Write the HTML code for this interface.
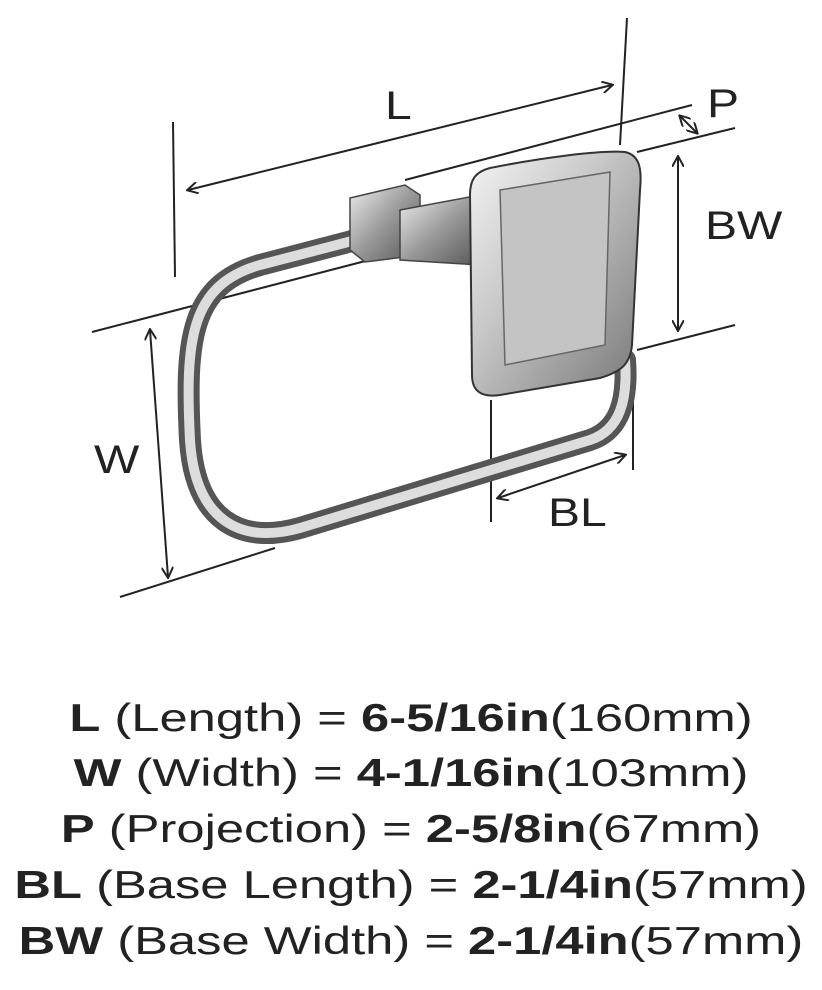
<!DOCTYPE html>
<html><head><meta charset="utf-8"><style>
html,body{margin:0;padding:0;background:#fff}
.t{position:absolute;left:0;width:822px;text-align:center;font-family:"Liberation Sans",sans-serif;font-size:39px;color:#222;line-height:44px;transform:scaleX(1.3);transform-origin:411px 0}
.t b{font-weight:bold}
.l{position:absolute;font-family:'Liberation Sans',sans-serif;font-size:40px;color:#222;transform:scaleX(1.2);transform-origin:0 0}
</style></head><body>
<div style="position:relative;width:822px;height:990px;overflow:hidden">
<svg width="822" height="660" style="position:absolute;left:0;top:0">
<defs>
<marker id="a" markerWidth="12" markerHeight="12" refX="10" refY="6" orient="auto-start-reverse" markerUnits="userSpaceOnUse"><path d="M0,0 L11,6 L0,12" fill="none" stroke="#222" stroke-width="2"/></marker>
<linearGradient id="g" x1="0" y1="0" x2="1" y2="1"><stop offset="0" stop-color="#eee"/><stop offset=".5" stop-color="#999"/><stop offset="1" stop-color="#555"/></linearGradient>
<linearGradient id="p" x1="0" y1="0" x2="1" y2="1"><stop offset="0" stop-color="#f4f4f4"/><stop offset=".4" stop-color="#c8c8c8"/><stop offset="1" stop-color="#777"/></linearGradient>
</defs>
<g stroke="#222" stroke-width="2" fill="none">
<line x1="173" y1="122" x2="175" y2="277"/>
<line x1="627" y1="18" x2="620" y2="145"/>
<line x1="188" y1="190" x2="612" y2="85" marker-start="url(#a)" marker-end="url(#a)"/>
<line x1="405" y1="180" x2="692" y2="105"/>
<line x1="637" y1="152" x2="735" y2="128"/>
<line x1="680" y1="116" x2="697" y2="133" marker-start="url(#a)" marker-end="url(#a)"/>
<line x1="637" y1="350" x2="735" y2="325"/>
<line x1="678" y1="157" x2="678" y2="330" marker-start="url(#a)" marker-end="url(#a)"/>
<line x1="92" y1="332" x2="400" y2="252"/>
<line x1="120" y1="597" x2="275" y2="548"/>
<line x1="150" y1="330" x2="168" y2="577" marker-start="url(#a)" marker-end="url(#a)"/>
<line x1="491" y1="400" x2="491" y2="522"/>
<line x1="633" y1="360" x2="633" y2="470"/>
<line x1="498" y1="498" x2="625" y2="455" marker-start="url(#a)" marker-end="url(#a)"/>
</g>
<path d="M375,235 L260,265 C190,285 185,340 190,440 C195,520 240,545 300,528 L590,440 C620,430 628,400 625,360" fill="none" stroke="#555" stroke-width="22" stroke-linecap="round"/>
<path d="M375,235 L260,265 C190,285 185,340 190,440 C195,520 240,545 300,528 L590,440 C620,430 628,400 625,360" fill="none" stroke="#ddd" stroke-width="10" stroke-linecap="round"/>
<path d="M350,198 L405,185 L420,195 L420,255 L365,262 L350,250 Z" fill="url(#g)" stroke="#444" stroke-width="1.5"/>
<path d="M400,210 L480,195 L480,265 L400,260 Z" fill="url(#g)" stroke="#444" stroke-width="1.5"/>
<path d="M490,168 C540,158 600,150 625,152 C640,155 642,170 640,190 L632,345 C630,365 620,372 600,378 L500,395 C480,398 472,390 472,375 L470,195 C470,180 475,172 490,168 Z" fill="url(#p)" stroke="#333" stroke-width="2"/>
<path d="M500,190 L610,172 L605,345 L505,365 Z" fill="#c4c4c4" stroke="#666" stroke-width="1.5"/>
</svg>
<div class="t" style="top:697px"><b>L</b> (Length) = <b>6-5/16in</b>(160mm)</div>
<div class="t" style="top:752px"><b>W</b> (Width) = <b>4-1/16in</b>(103mm)</div>
<div class="t" style="top:808px"><b>P</b> (Projection) = <b>2-5/8in</b>(67mm)</div>
<div class="t" style="top:864px"><b>BL</b> (Base Length) = <b>2-1/4in</b>(57mm)</div>
<div class="t" style="top:920px"><b>BW</b> (Base Width) = <b>2-1/4in</b>(57mm)</div>
<span class="l" style="left:385px;top:84px">L</span>
<span class="l" style="left:707px;top:82px">P</span>
<span class="l" style="left:705px;top:204px">BW</span>
<span class="l" style="left:94px;top:438px">W</span>
<span class="l" style="left:548px;top:491px">BL</span>
</div>
</body></html>
